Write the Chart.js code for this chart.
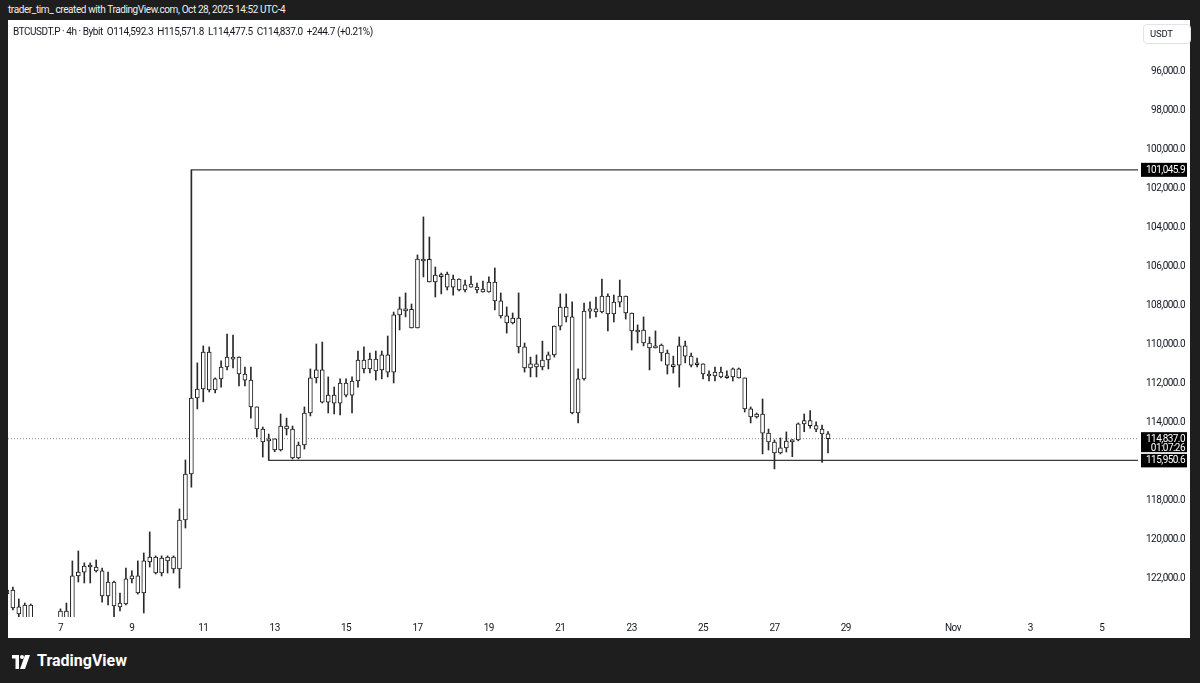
<!DOCTYPE html>
<html>
<head>
<meta charset="utf-8">
<script src="https://cdn.jsdelivr.net/npm/chart.js@4.4.1/dist/chart.umd.min.js"></script>
<style>
html,body{margin:0;padding:0;width:1200px;height:683px;overflow:hidden;background:#1e1e1e;font-family:Roboto,"Liberation Sans",sans-serif;}
#hdr{position:absolute;left:8px;top:3px;color:#f0f0f0;font-size:10px;line-height:14px;white-space:nowrap;letter-spacing:-0.4px;}
#panel{position:absolute;left:8px;top:20px;width:1182px;height:618px;background:#ffffff;}
#cv{position:absolute;left:0;top:0;}
#legend{position:absolute;left:5px;top:5px;color:#131722;font-size:10px;line-height:13px;white-space:nowrap;letter-spacing:-0.45px;}
#usdt{position:absolute;left:1135px;top:4px;width:40px;height:18px;border:1px solid #e0e3eb;border-radius:4px;color:#131722;font-size:9.5px;line-height:18px;padding-left:6px;box-sizing:content-box;letter-spacing:-0.2px;}
#footer{position:absolute;left:10px;top:651px;color:#ffffff;font-size:16px;font-weight:bold;line-height:20px;white-space:nowrap;}
#footer svg{vertical-align:-3px;margin-right:5px;}
</style>
</head>
<body>
<div id="hdr">trader_tim_ created with TradingView.com, Oct 28, 2025 14:52 UTC-4</div>
<div id="panel">
  <canvas id="cv" width="1182" height="618"></canvas>
  <div id="legend">BTCUSDT.P · 4h · Bybit&nbsp; O114,592.3&nbsp; H115,571.8&nbsp; L114,477.5&nbsp; C114,837.0&nbsp; +244.7 (+0.21%)</div>
  <div id="usdt">USDT</div>
</div>
<div id="footer"><svg width="22" height="14" viewBox="0 0 36 28"><path d="M0 0h14v28H7V7H0z" fill="#fff"/><circle cx="20" cy="4" r="4" fill="#fff"/><path d="M26 0h10L26 28H16z" fill="#fff"/></svg>TradingView</div>
<script>
// ---- data (4h candles, BTCUSDT.P Bybit) ----
// bar position is counted in 4h bars from Oct 7 00:00; first candle = Oct 5 12:00
const START_BAR = -9;
const opens  = [122800,122600,123470,124250,123380,124400,125100,125700,125200,124700,123680,124300,121880,121680,121370,121420,121620,122910,122190,123470,123320,122030,121880,122750,121160,120910,121730,121110,120910,121520,119010,116650,112750,112290,110390,112340,111770,111160,110650,110650,111520,111830,113210,114340,114950,114850,115420,114190,114340,115830,115160,113520,111720,111310,112960,112600,113010,111980,112600,111880,110800,111260,110750,111310,110540,111420,108490,108180,108200,109160,105620,105640,106800,106440,106390,107060,106650,107210,107060,107060,107160,107310,106800,107770,108540,108900,108650,110130,111210,111000,111160,110800,110540,109060,108080,108590,113520,111770,108290,108180,108340,107520,108440,107830,107520,108390,109310,109260,109930,110180,110030,110440,111060,111060,110080,110600,110960,111000,111520,111620,111420,111630,111670,111260,111720,113310,113720,113570,114550,115010,115570,115310,114960,114900,114080,113910,114170,114350,114592.3];
const highs  = [122910,123620,123980,124450,124600,125400,126000,126100,125400,124900,124450,124400,122190,122240,122240,121680,123220,123370,123980,123680,123370,122240,122810,123780,121420,121780,121880,121730,121730,122500,119420,117320,113310,112950,112440,112490,112190,111310,111210,112130,112130,113780,114750,115780,115950.6,115510,115470,114650,115880,115880,115370,113670,111980,113010,113520,113570,113620,112700,113520,112190,111470,111470,111830,111770,111670,111980,109260,108590,109160,109160,106540,106800,107570,107410,107210,107470,107260,107310,107060,107360,107320,107320,108230,108650,109420,108950,110440,111420,111670,111670,111310,111260,110650,109260,108850,113570,114030,111830,108650,108590,108390,109310,108850,108080,108700,110290,109930,110080,111310,110190,110850,111520,111470,112190,110950,111160,111160,111770,111880,111880,111720,111740,111880,111730,113470,114030,113780,115620,115420,116390,115620,115520,115760,114950,114480,114300,114480,116050,115571.8];
const lows   = [122500,122450,123060,123270,123320,124200,124900,124900,124300,123570,123270,121110,120600,121210,121210,121060,121470,121680,122140,122760,121470,121620,121110,120700,119620,120850,120850,120850,120850,118440,115930,101045.9,110950,110080,110130,111720,110850,109470,109520,110640,111160,111160,113210,114240,114600,114850,113570,113780,114190,115010,113210,111260,109980,109880,111670,112190,111770,111770,111670,110340,110130,110440,110340,110340,109570,108340,107570,107360,107930,105410,103460,104490,106030,106340,106290,106440,106640,106700,106490,106850,106750,106540,106080,107360,108080,108390,107360,109930,110650,110540,109830,110390,109050,107410,107410,107820,111260,107880,107820,107570,106650,107410,107470,106700,107520,108390,109000,108590,109620,109310,109980,110290,110600,109620,109830,110440,110700,111000,111360,111160,111160,111360,111210,111210,111720,113210,113520,112800,114340,114900,114800,114490,114880,114030,113570,113400,113970,114140,114477.5];
const closes = [122600,123520,123830,123370,124400,125100,125700,125200,124700,123680,124300,121880,121680,121370,121320,121620,122910,122190,123420,123270,122030,121880,122750,121110,120910,121730,120960,120910,121520,119010,116650,112750,112290,110390,112340,111770,111160,110650,110690,111520,111830,113210,114340,115010,114850,115420,114190,114340,115830,115160,113520,111720,111310,112960,112600,113010,111980,112600,111880,110800,111260,110750,111360,110540,111420,108490,108180,108200,109160,105620,105640,106800,106440,106420,107060,106650,107210,106950,106900,107210,107310,106800,107770,108540,108900,108650,110130,111210,111000,111160,110800,110540,109060,108080,108590,113520,111770,108290,108180,108340,107520,108440,107830,107520,108390,109310,109260,109930,110180,110080,110440,111060,111040,110080,110600,111060,110940,111520,111530,111420,111670,111610,111260,111720,113310,113720,113570,114550,115010,115570,115310,114960,114900,114080,113910,114170,114350,114590,114837.0];

// price axis ticks (inverted scale), 116,000 hidden behind price labels
const priceTicks = [96000,98000,100000,102000,104000,106000,108000,110000,112000,114000,118000,120000,122000];
// time axis labels and their bar positions (Nov 2 DST adds one bar)
const timeLabels = ['7','9','11','13','15','17','19','21','23','25','27','29','Nov','3','5'];
const timeBars   = [0,12,24,36,48,60,72,84,96,108,120,132,150,163,175];

// drawn levels
const rayHigh = {bar:22, price:101045.9};
const rayLow  = {bar:35, price:115950.6};
const lastPrice = 114837.0;
const countdown = '01:07:26';

// visible range
const X_MIN = -8.82, X_MAX = 181.1;
const Y_MIN = 93358, Y_MAX = 123986;

const wickData = highs.map((h,k)=>({x:START_BAR+k, y:[lows[k], h]}));
const bodyData = opens.map((o,k)=>({x:START_BAR+k, y:[Math.min(o,closes[k]), Math.max(o,closes[k])]}));

const fmt = v => v.toLocaleString('en-US',{minimumFractionDigits:1,maximumFractionDigits:1});
const FONT = 'Roboto, "Liberation Sans", sans-serif';
const SPACING = '-0.55px';

const spacingPlugin = {
  id:'spacing',
  beforeUpdate(chart){ chart.ctx.letterSpacing = SPACING; },
  beforeDraw(chart){ chart.ctx.letterSpacing = SPACING; }
};

const labelPlugin = {
  id:'priceLabels',
  afterDraw(chart){
    const ctx = chart.ctx, y = chart.scales.y, a = chart.chartArea;
    const x0 = a.right + 3, w = 46;
    ctx.save();
    ctx.letterSpacing = SPACING;
    ctx.font = '10px ' + FONT;
    ctx.textBaseline = 'middle';
    ctx.textAlign = 'right';
    function box(price, lines, top, h){
      const py = y.getPixelForValue(price);
      ctx.fillStyle = '#000';
      ctx.fillRect(x0, py + top, w, h);
      ctx.fillStyle = '#fff';
      ctx.fillText(lines[0], x0 + 44, py + 0.5);
      if(lines[1]) ctx.fillText(lines[1], x0 + 44, py + 9.5);
    }
    box(rayHigh.price, [fmt(rayHigh.price)], -7, 14);
    box(lastPrice, [fmt(lastPrice), countdown], -6.5, 20);
    box(rayLow.price, [fmt(rayLow.price)], -6.5, 13.5);
    ctx.restore();
  }
};

new Chart(document.getElementById('cv'), {
  type:'bar',
  data:{
    datasets:[
      {type:'line', data:[{x:X_MIN,y:lastPrice},{x:X_MAX,y:lastPrice}], borderColor:'#8a8d94', borderWidth:1, borderDash:[1,2], pointRadius:0, order:5},
      {type:'line', data:[{x:rayHigh.bar,y:rayHigh.price},{x:X_MAX,y:rayHigh.price}], borderColor:'#3a3a3a', borderWidth:1.2, pointRadius:0, order:4},
      {type:'line', data:[{x:rayLow.bar,y:rayLow.price},{x:X_MAX,y:rayLow.price}], borderColor:'#3a3a3a', borderWidth:1.2, pointRadius:0, order:4},
      {label:'wick', data:wickData, backgroundColor:'#2a2a2a', borderWidth:0, barThickness:1, grouped:false, order:2},
      {label:'body', data:bodyData, backgroundColor:'#ffffff', borderColor:'#1a1a1a', borderWidth:1, borderSkipped:false, barThickness:4, minBarLength:2, grouped:false, order:1}
    ]
  },
  options:{
    responsive:false, animation:false,
    layout:{padding:{left:0, top:0, bottom:0, right:5}},
    plugins:{legend:{display:false}, tooltip:{enabled:false}},
    scales:{
      x:{type:'linear', min:X_MIN, max:X_MAX, offset:false,
         grid:{display:false, drawTicks:false}, border:{display:false},
         afterBuildTicks: s => { s.ticks = timeBars.map(v=>({value:v})); },
         afterFit: s => { s.height = 21; s.paddingLeft = 0; s.paddingRight = 0; },
         ticks:{autoSkip:false, maxRotation:0, padding:5, color:'#131722', font:{family:FONT, size:10},
                callback:(v)=>{ const i = timeBars.indexOf(v); return i>=0 ? timeLabels[i] : ''; }}},
      y:{type:'linear', position:'right', reverse:true, min:Y_MIN, max:Y_MAX,
         grid:{display:false, drawTicks:false}, border:{display:false},
         afterBuildTicks: s => { s.ticks = priceTicks.map(v=>({value:v})); },
         afterFit: s => { s.width = 47; s.paddingTop = 0; s.paddingBottom = 0; },
         ticks:{padding:3, crossAlign:'far', color:'#131722', font:{family:FONT, size:10}, callback:v=>fmt(v)}}
    }
  },
  plugins:[spacingPlugin, labelPlugin]
});
</script>
</body>
</html>
